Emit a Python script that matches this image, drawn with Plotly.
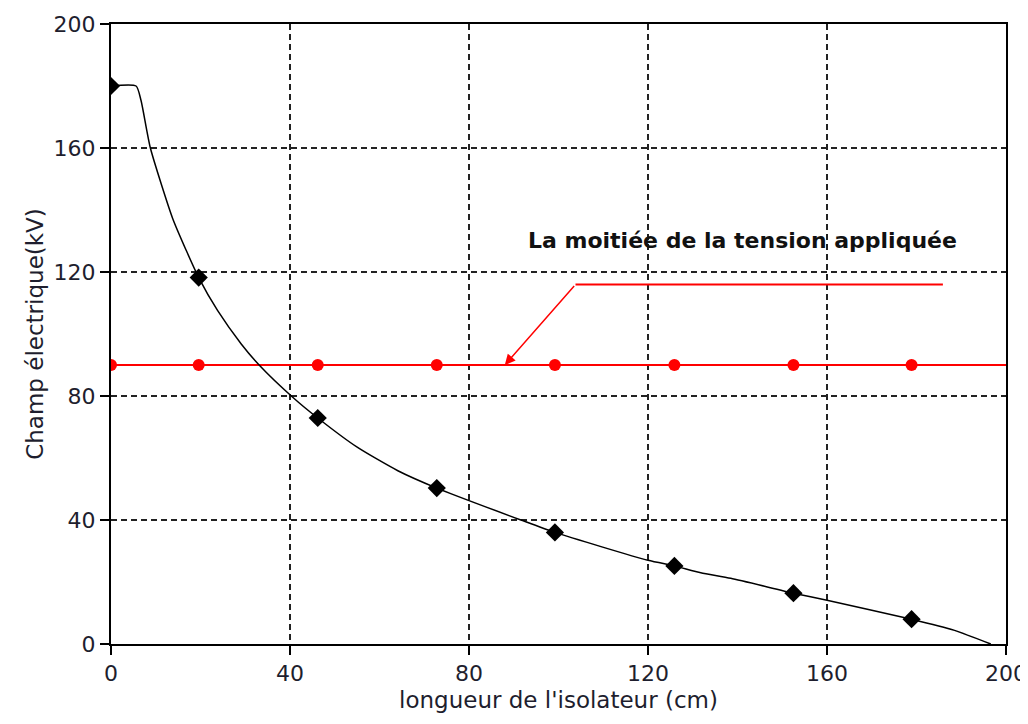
import plotly.graph_objects as go

# smooth curve
curve_x = [0, 5.6, 6.7, 8.8, 13.8, 16.8, 19.6, 23.8, 29.1, 33.1, 40.6, 46.2, 55.1, 64.1,
           72.8, 91.6, 99.2, 120.0, 125.9, 131.8, 138.5, 152.5, 160.0, 178.9, 188.5, 196.6]
curve_y = [180, 180, 175.4, 160, 137.2, 127, 118.2, 107.6, 96.8, 90, 79.6, 72.9, 63.4, 55.9,
           50.3, 40, 36.0, 27.0, 25.2, 23.0, 21.2, 16.4, 14.1, 8.0, 4.4, 0]

# measured points (diamonds)
point_x = [0, 19.6, 46.2, 72.8, 99.2, 125.9, 152.5, 178.9]
point_y = [180, 118.2, 72.9, 50.3, 36.0, 25.2, 16.4, 8.0]

# half of the applied voltage
half_line_x = [0, 200]
half_line_y = [90, 90]
half_point_y = [90, 90, 90, 90, 90, 90, 90, 90]

tick_vals = [0, 40, 80, 120, 160, 200]

font_main = "DejaVu Sans, Verdana, sans-serif"

fig = go.Figure()

fig.add_trace(go.Scatter(x=half_line_x, y=half_line_y, mode="lines",
                         line=dict(color="#ff0000", width=2), showlegend=False))
fig.add_trace(go.Scatter(x=point_x, y=half_point_y, mode="markers",
                         marker=dict(color="#ff0000", size=12, symbol="circle"), showlegend=False))
fig.add_trace(go.Scatter(x=curve_x, y=curve_y, mode="lines",
                         line=dict(color="black", width=1.5, shape="spline", smoothing=0.6),
                         showlegend=False))
fig.add_trace(go.Scatter(x=point_x, y=point_y, mode="markers",
                         marker=dict(color="black", size=14, symbol="diamond"), showlegend=False))

# the page body adds 8px around the figure
fig.update_layout(
    width=1020,
    height=716,
    paper_bgcolor="white",
    plot_bgcolor="white",
    margin=dict(l=103, r=22, t=16, b=80),
    font=dict(family=font_main, color="#1e1e2e", size=22),
)

fig.update_xaxes(
    range=[0, 200],
    tickvals=tick_vals,
    showgrid=True,
    gridcolor="#222222",
    gridwidth=2,
    griddash="6px,4px",
    zeroline=False,
    showline=True,
    linecolor="black",
    linewidth=2,
    mirror=True,
    ticks="outside",
    ticklen=9,
    tickwidth=2,
    tickcolor="black",
    tickfont=dict(size=22),
    automargin=False,
    title=dict(text="longueur de l'isolateur (cm)", font=dict(size=23), standoff=6),
)

fig.update_yaxes(
    range=[0, 200],
    tickvals=tick_vals,
    showgrid=True,
    gridcolor="#222222",
    gridwidth=2,
    griddash="6px,4px",
    zeroline=False,
    showline=True,
    linecolor="black",
    linewidth=2,
    mirror=True,
    ticks="outside",
    ticklen=9,
    tickwidth=2,
    tickcolor="black",
    tickfont=dict(size=22),
    automargin=False,
    title=dict(text="Champ électrique(kV)", font=dict(size=23), standoff=4),
)

fig.add_annotation(
    x=141.1, y=130.3, xref="x", yref="y",
    text="<b>La moitiée de la tension appliquée</b>",
    showarrow=False,
    font=dict(size=22, color="#111111", family=font_main),
)

# leader line + arrow pointing to the red line
fig.add_shape(type="line", x0=103.8, y0=116, x1=185.9, y1=116,
              xref="x", yref="y", line=dict(color="#ff0000", width=2))
fig.add_annotation(
    x=88, y=90, xref="x", yref="y",
    ax=103.8, ay=116, axref="x", ayref="y",
    text="", showarrow=True,
    arrowhead=2, arrowsize=1.4, arrowwidth=1.5, arrowcolor="#ff0000",
)

fig.write_html("out.html")
